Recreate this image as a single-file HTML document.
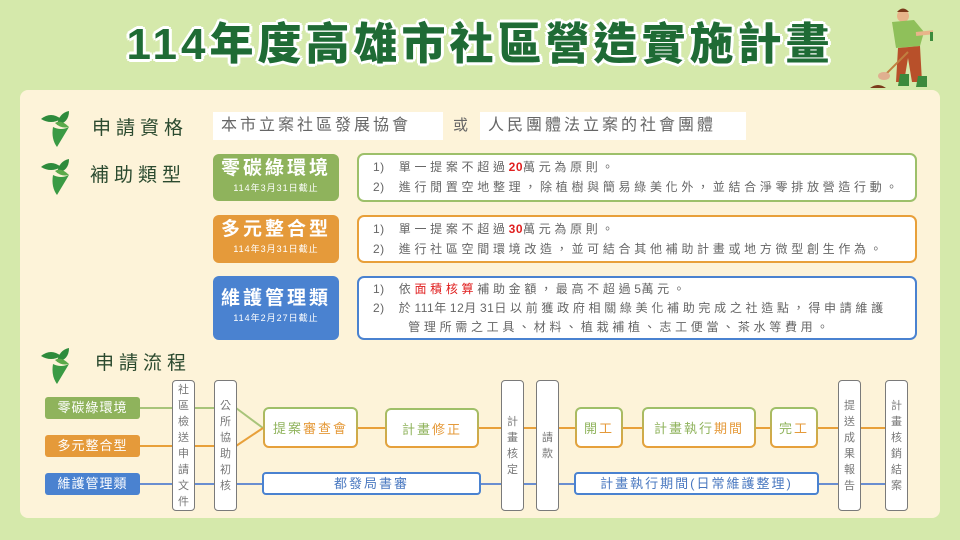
<!DOCTYPE html>
<html><head><meta charset="utf-8"><style>
*{margin:0;padding:0;box-sizing:border-box}
body{width:960px;height:540px;background:#d5e9ab;position:relative;overflow:hidden;font-family:"Liberation Sans","Noto Sans CJK TC",sans-serif}
.a{position:absolute}
.panel{left:20px;top:90px;width:920px;height:428px;background:#fdf3d9;border-radius:8px}
.title{left:120px;top:8px;width:720px;text-align:center;font-size:44px;font-weight:900;color:#1f6b35;letter-spacing:4px;text-shadow:3px 0 #fff,-3px 0 #fff,0 3px #fff,0 -3px #fff,2px 2px #fff,-2px -2px #fff,2px -2px #fff,-2px 2px #fff}
.h{font-size:19px;color:#2b4a2f;letter-spacing:5px}
.wb{background:#fff;font-size:16px;color:#666;letter-spacing:3px;padding-left:8px;line-height:28px}
.tl{border-radius:6px;color:#fff;text-align:center}
.tl b{display:block;font-size:19px;letter-spacing:3px;margin-top:3px;line-height:24px}
.tl i{display:block;font-style:normal;font-size:9px;letter-spacing:1px;line-height:14px}
.db{background:#fff;border:2px solid;border-radius:7px;font-size:12px;color:#666;letter-spacing:3.7px;line-height:20px;padding:2px 0 0 14px;white-space:nowrap}
.db s{text-decoration:none;letter-spacing:0.5px}
.r{color:#e02020}
.fl{color:#fff;font-size:13px;letter-spacing:1px;text-align:center;line-height:22px;border-radius:3px}
.v{background:#fff;border:1.5px solid #7a7a7a;border-radius:4px;font-size:11px;color:#777;text-align:center;line-height:16px;display:flex;flex-direction:column;justify-content:center;align-items:center}
.p{border:2px solid transparent;border-radius:6px;background:linear-gradient(#fff,#fff) padding-box,linear-gradient(#9dc06a,#e8a03a) border-box;display:flex;align-items:center;justify-content:center;font-size:13px;letter-spacing:2px}
.g{color:#8fb35c}.o{color:#e59a3a}
.bb{background:#fff;border:2px solid #4a82d0;border-radius:4px;color:#4a78c0;font-size:13px;letter-spacing:2px;text-align:center;line-height:19px}
</style></head><body>
<div class="a panel"></div>
<div class="a title">114年度高雄市社區營造實施計畫</div>
<svg class="a" style="left:858px;top:4px" width="75" height="88" viewBox="0 0 75 88">
<circle cx="45" cy="12" r="6" fill="#e8b48a"/><path d="M39 8q6-7 12 0" fill="#7a3a1a"/>
<path d="M34 18l22-2 10 12-4 14-24 2z" fill="#8fc05a"/>
<path d="M40 44l22-2 2 36h-10l-4-24-4 24h-8z" fill="#b8502a"/>
<path d="M42 70h9v12H40zM60 72h9v11h-11z" fill="#3c8a3c"/>
<path d="M58 30l20 -2" stroke="#e8b48a" stroke-width="4"/><rect x="72" y="28" width="6" height="9" fill="#3c8a3c"/>
<path d="M50 48L28 70" stroke="#c08040" stroke-width="2"/>
<ellipse cx="26" cy="72" rx="6" ry="4" fill="#e0b090"/><path d="M12 84q8-6 16 0z" fill="#7a3a1a"/>
</svg>

<svg width="0" height="0" style="position:absolute"><defs><g id="lf">
<path d="M0 8q10-8 20 0q-10 6-20 0z" fill="#2e8b3c"/>
<path d="M16 14q2-12 12-14q0 12-12 14z" fill="#2e8b3c"/>
<path d="M12 16q8 4 16 0q-6 10-12 20q-6-8-4-20z" fill="#3a9a44"/>
<path d="M14 12q6 6 14 4q-8-8-14-4z" fill="#5aaa4a"/>
</g></defs></svg>
<svg class="a" style="left:41px;top:111px" width="36" height="40"><use href="#lf"/></svg>
<svg class="a" style="left:41px;top:159px" width="36" height="40"><use href="#lf"/></svg>
<svg class="a" style="left:41px;top:348px" width="36" height="40"><use href="#lf"/></svg>

<div class="a h" style="left:92px;top:113px">申請資格</div>
<div class="a h" style="left:90px;top:160px">補助類型</div>
<div class="a h" style="left:95px;top:348px">申請流程</div>

<div class="a wb" style="left:213px;top:112px;width:230px">本市立案社區發展協會</div>
<div class="a" style="left:453px;top:112px;line-height:28px;font-size:15px;color:#666">或</div>
<div class="a wb" style="left:480px;top:112px;width:266px">人民團體法立案的社會團體</div>

<div class="a tl" style="left:213px;top:154px;width:126px;height:47px;background:#8fb35c"><b>零碳綠環境</b><i>114年3月31日截止</i></div>
<div class="a tl" style="left:213px;top:215px;width:126px;height:48px;background:#e59a3a"><b>多元整合型</b><i>114年3月31日截止</i></div>
<div class="a tl" style="left:213px;top:276px;width:126px;height:64px;background:#4a82d0"><b style="margin-top:11px">維護管理類</b><i>114年2月27日截止</i></div>

<div class="a db" style="left:357px;top:153px;width:560px;height:49px;border-color:#9dc06a"><s>1)</s>&nbsp; 單一提案不超過<s class="r"><b>20</b></s>萬元為原則。<br><s>2)</s>&nbsp; 進行閒置空地整理，除植樹與簡易綠美化外，並結合淨零排放營造行動。</div>
<div class="a db" style="left:357px;top:215px;width:560px;height:48px;border-color:#e8a03a"><s>1)</s>&nbsp; 單一提案不超過<s class="r"><b>30</b></s>萬元為原則。<br><s>2)</s>&nbsp; 進行社區空間環境改造，並可結合其他補助計畫或地方微型創生作為。</div>
<div class="a db" style="left:357px;top:276px;width:560px;height:64px;border-color:#4a82d0;line-height:19px"><s>1)</s>&nbsp; 依<span class="r">面積核算</span>補助金額，最高不超過<s>5</s>萬元。<br><s>2)</s>&nbsp; 於<s>111</s>年<s>12</s>月<s>31</s>日以前獲政府相關綠美化補助完成之社造點，得申請維護<br>&nbsp;&nbsp;&nbsp;&nbsp; 管理所需之工具、材料、植栽補植、志工便當、茶水等費用。</div>

<svg class="a" style="left:0;top:0" width="960" height="540">
<g fill="none" stroke-width="2">
<path d="M140 408H214M236 408L263 428" stroke="#a8c47a"/>
<path d="M140 446H214M236 446L263 428" stroke="#e8a03a"/>
<path d="M358 428H385M479 428H885" stroke="#e8a03a"/>
<path d="M140 484H885" stroke="#6a8ed0"/>
</g></svg>

<div class="a fl" style="left:45px;top:397px;width:95px;background:#8fb35c">零碳綠環境</div>
<div class="a fl" style="left:45px;top:435px;width:95px;background:#e59a3a">多元整合型</div>
<div class="a fl" style="left:45px;top:473px;width:95px;background:#4a82d0">維護管理類</div>

<div class="a v" style="left:172px;top:380px;width:23px;height:131px">社<br>區<br>檢<br>送<br>申<br>請<br>文<br>件</div>
<div class="a v" style="left:214px;top:380px;width:23px;height:131px">公<br>所<br>協<br>助<br>初<br>核</div>
<div class="a v" style="left:501px;top:380px;width:23px;height:131px">計<br>畫<br>核<br>定</div>
<div class="a v" style="left:536px;top:380px;width:23px;height:131px">請<br>款</div>
<div class="a v" style="left:838px;top:380px;width:23px;height:131px">提<br>送<br>成<br>果<br>報<br>告</div>
<div class="a v" style="left:885px;top:380px;width:23px;height:131px">計<br>畫<br>核<br>銷<br>結<br>案</div>

<div class="a p" style="left:263px;top:407px;width:95px;height:41px"><span class="g">提案</span><span class="o">審查會</span></div>
<div class="a p" style="left:385px;top:408px;width:94px;height:40px"><span class="g">計畫</span><span class="o">修正</span></div>
<div class="a p" style="left:575px;top:407px;width:48px;height:41px"><span class="g">開</span><span class="o">工</span></div>
<div class="a p" style="left:642px;top:407px;width:114px;height:41px"><span class="g">計畫執行</span><span class="o">期間</span></div>
<div class="a p" style="left:770px;top:407px;width:48px;height:41px"><span class="g">完</span><span class="o">工</span></div>

<div class="a bb" style="left:262px;top:472px;width:219px;height:23px">都發局書審</div>
<div class="a bb" style="left:574px;top:472px;width:245px;height:23px">計畫執行期間(日常維護整理)</div>
</body></html>
